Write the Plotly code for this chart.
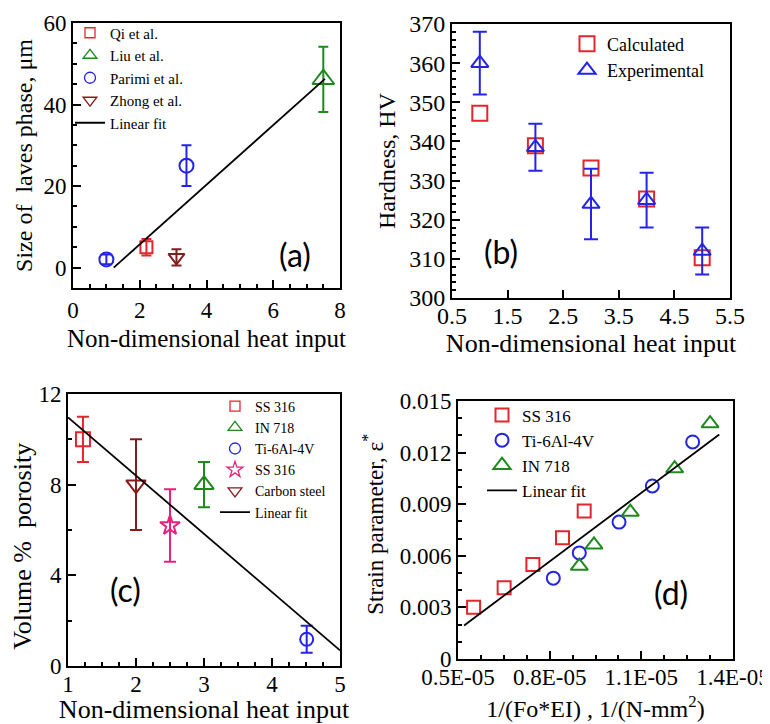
import plotly.graph_objects as go

# ---------------- data ----------------
# (a) size of Laves phase vs non-dimensional heat input
a_qi_x, a_qi_y, a_qi_e = [2.2], [5.0], [2.0]
a_liu_x, a_liu_y, a_liu_e = [7.5], [46.2], [8.0]
a_par_x, a_par_y, a_par_e = [1.0, 3.4], [2.0, 25.0], [1.2, 5.0]
a_zho_x, a_zho_y, a_zho_e = [3.1], [2.5], [2.0]
a_fit_x, a_fit_y = [1.22, 7.55], [0.0, 46.3]

# (b) hardness vs non-dimensional heat input
b_x = [1, 2, 3, 4, 5]
b_calc = [347.2, 338.9, 333.2, 325.3, 310.3]
b_exp = [360.0, 338.5, 324.0, 325.0, 312.0]
b_exp_err = [8.0, 6.0, 9.0, 7.0, 6.0]

# (c) volume % porosity vs non-dimensional heat input
c_ss_x, c_ss_y, c_ss_e = [1.22], [10.0], [1.0]
c_in_x, c_in_y, c_in_e = [3.0], [8.0], [1.0]
c_ti_x, c_ti_y, c_ti_e = [4.51], [1.18], [0.6]
c_st_x, c_st_y, c_st_e = [2.5], [6.2], [1.6]
c_cs_x, c_cs_y, c_cs_e = [2.0], [8.0], [2.0]
c_fit_x, c_fit_y = [1.0, 5.0], [10.97, 0.69]

# (d) strain parameter vs 1/(Fo*EI)
d_ss_x = [0.551e-5, 0.651e-5, 0.745e-5, 0.842e-5, 0.913e-5]
d_ss_y = [0.00301, 0.00414, 0.00550, 0.00705, 0.00860]
d_ti_x = [0.812e-5, 0.897e-5, 1.027e-5, 1.136e-5, 1.268e-5]
d_ti_y = [0.00470, 0.00617, 0.00796, 0.01006, 0.01262]
d_in_x = [0.897e-5, 0.945e-5, 1.064e-5, 1.209e-5, 1.325e-5]
d_in_y = [0.00540, 0.00664, 0.00854, 0.01107, 0.01369]
d_fit_x, d_fit_y = [0.52e-5, 1.355e-5], [0.00195, 0.01305]
d_tickvals = [0.5e-5, 0.8e-5, 1.1e-5, 1.4e-5]
d_ticktext = ["0.5E-05", "0.8E-05", "1.1E-05", "1.4E-05"]

RED = "#e3262e"
GREEN = "#1e8a1e"
BLUE = "#2424e6"
MAROON = "#851c1c"
PINK = "#e8207e"
SERIF = "Liberation Serif, Times New Roman, serif"
NB = "&nbsp;"

# the page body has an 8px margin: size the figure to the visible window
OFF = 8
W, H = 770 - OFF, 724 - OFF


def px(v):
    return (v - OFF) / W


def py(v):
    return 1 - (v - OFF) / H


fig = go.Figure()


def pts(x, y, err, name, color, symbol, size, xa, ya, leg, cap=5, legsize=None):
    fig.add_trace(go.Scatter(
        x=x, y=y, mode="markers", name=name, xaxis=xa, yaxis=ya, legend=leg,
        showlegend=legsize is None,
        marker=dict(symbol=symbol, size=size, color=color, line=dict(color=color, width=2)),
        error_y=None if err is None else dict(type="data", array=err, visible=True,
                                               color=color, thickness=2, width=cap),
    ))
    if legsize is not None:
        # legend entry with the small symbol drawn in the reference legend
        fig.add_trace(go.Scatter(
            x=[None], y=[None], mode="markers", name=name, xaxis=xa, yaxis=ya, legend=leg,
            marker=dict(symbol=symbol, size=legsize, color=color,
                        line=dict(color=color, width=1.3)),
        ))


def fit(x, y, xa, ya, leg):
    fig.add_trace(go.Scatter(x=x, y=y, mode="lines", name="Linear fit", xaxis=xa,
                             yaxis=ya, legend=leg, line=dict(color="black", width=1.8)))


# (a)
pts(a_qi_x, a_qi_y, a_qi_e, "Qi et al.", RED, "square-open", 12, "x", "y", "legend", legsize=10)
pts(a_liu_x, a_liu_y, a_liu_e, "Liu et al.", GREEN, "triangle-up-open", 19, "x", "y", "legend", legsize=12)
pts(a_par_x, a_par_y, a_par_e, "Parimi et al.", BLUE, "circle-open", 14, "x", "y", "legend", legsize=11)
pts(a_zho_x, a_zho_y, a_zho_e, "Zhong et al.", MAROON, "triangle-down-open", 14, "x", "y", "legend", legsize=12)
fit(a_fit_x, a_fit_y, "x", "y", "legend")

# (b)
pts(b_x, b_calc, None, "Calculated", RED, "square-open", 15, "x2", "y2", "legend2")
pts(b_x, b_exp, b_exp_err, "Experimental", BLUE, "triangle-up-open", 15, "x2", "y2", "legend2", cap=7)

# (c)
pts(c_ss_x, c_ss_y, c_ss_e, "SS 316", RED, "square-open", 14, "x3", "y3", "legend3", cap=6, legsize=10)
pts(c_in_x, c_in_y, c_in_e, "IN 718", GREEN, "triangle-up-open", 17, "x3", "y3", "legend3", cap=6, legsize=12)
pts(c_ti_x, c_ti_y, c_ti_e, "Ti-6Al-4V", BLUE, "circle-open", 13, "x3", "y3", "legend3", cap=6, legsize=11)
pts(c_st_x, c_st_y, c_st_e, "SS 316", PINK, "star-open", 15, "x3", "y3", "legend3", cap=6, legsize=12)
pts(c_cs_x, c_cs_y, c_cs_e, "Carbon steel", MAROON, "triangle-down-open", 17, "x3", "y3", "legend3", cap=6, legsize=12)
fit(c_fit_x, c_fit_y, "x3", "y3", "legend3")

# (d)
pts(d_ss_x, d_ss_y, None, "SS 316", RED, "square-open", 13, "x4", "y4", "legend4")
pts(d_ti_x, d_ti_y, None, "Ti-6Al-4V", BLUE, "circle-open", 13, "x4", "y4", "legend4")
pts(d_in_x, d_in_y, None, "IN 718", GREEN, "triangle-up-open", 15, "x4", "y4", "legend4")
fit(d_fit_x, d_fit_y, "x4", "y4", "legend4")


def ax(domain, rng, dtick, tick0, mdtick, size, title, tsize, standoff, anchor, **kw):
    d = dict(domain=domain, range=rng, anchor=anchor, showline=True, linecolor="black",
             linewidth=2, mirror=True, ticks="inside", ticklen=8, tickwidth=1.5,
             tickcolor="black", showgrid=False, zeroline=False, automargin=False,
             tickfont=dict(family=SERIF, size=size, color="black"),
             title=dict(text=title, font=dict(family=SERIF, size=tsize, color="black"),
                        standoff=standoff))
    if dtick is not None:
        d.update(tickmode="linear", dtick=dtick, tick0=tick0)
    if mdtick is not None:
        d["minor"] = dict(ticks="inside", ticklen=4, tickwidth=1.5, tickcolor="black",
                          dtick=mdtick, tick0=tick0, showgrid=False)
    d.update(kw)
    return d


def leg(x, y, size):
    return dict(x=px(x), y=py(y), xanchor="left", yanchor="top", bgcolor="rgba(0,0,0,0)",
                font=dict(family=SERIF, size=size, color="black"), tracegroupgap=0)


def label(text, x, y):
    return dict(text=text, x=px(x), y=py(y), xref="paper", yref="paper", showarrow=False,
                font=dict(family="Lato", size=32, color="black"))


xt = "Non-dimensional heat input"
fig.update_layout(
    width=W, height=H, margin=dict(l=0, r=0, t=0, b=0),
    paper_bgcolor="white", plot_bgcolor="white",
    font=dict(family=SERIF, color="black"),
    xaxis=ax([px(73), px(340)], [0, 8], 2, 0, 0.5, 23, xt, 25, 8, "y"),
    yaxis=ax([py(288), py(23)], [-5, 60], 20, 0, 5, 23, "Size of  laves phase, μm", 24, 4, "x"),
    xaxis2=ax([px(452), px(730)], [0.5, 5.5], 1, 0.5, None, 24, xt, 26, 0, "y2",
              ticklabelstandoff=-5),
    yaxis2=ax([py(298), py(24)], [300, 370], 10, 300, 2, 24, "Hardness, HV", 24, 7, "x2"),
    xaxis3=ax([px(68), px(340)], [1, 5], 1, 1, 0.25, 23, xt, 26, 8, "y3",
              ticklabelstandoff=-4),
    yaxis3=ax([py(666), py(394)], [0, 12], 4, 0, 2, 23,
              "Volume %  porosity" + NB * 5, 26, 2, "x3"),
    xaxis4=ax([px(458), px(733)], [0.5e-5, 1.4e-5], None, 0.5e-5, 0.075e-5, 23,
              "1/(Fo*EI) , 1/(N-mm<sup>2</sup>)", 24, 12, "y4",
              tickmode="array", tickvals=d_tickvals, ticktext=d_ticktext,
              ticklabelstandoff=-4),
    yaxis4=ax([py(659), py(401)], [0, 0.015], 0.003, 0, 0.001, 23,
              NB * 2 + "Strain parameter, ε<sup>*</sup>", 23, 10, "x4"),
    legend=leg(70, 16.5, 15),
    legend2=leg(567, 25.5, 18),
    legend3=leg(215, 390.5, 14),
    legend4=leg(482, 397.5, 17),
    annotations=[
        label("(a)", 295, 255),
        label("(b)", 501, 252),
        label("(c)", 108, 611),
        label("(d)", 690, 614),
    ],
)

fig.write_html("out.html")
